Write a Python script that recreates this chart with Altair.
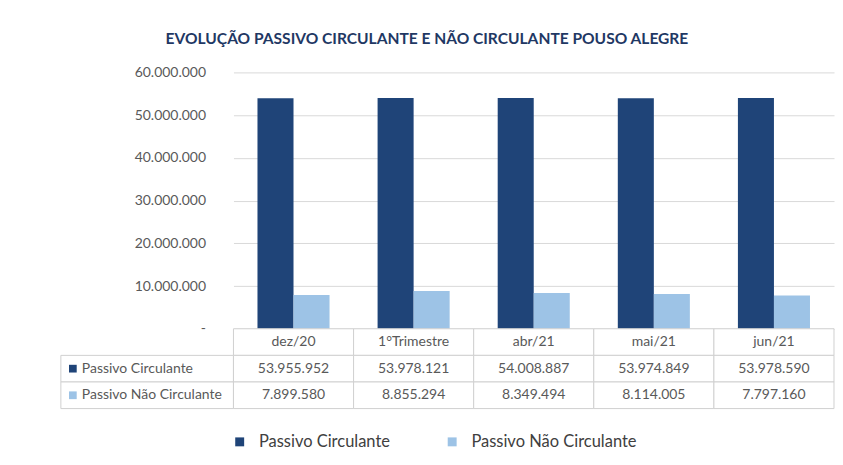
import altair as alt
import pandas as pd

categories = ["dez/20", "1°Trimestre", "abr/21", "mai/21", "jun/21"]
series = ["Passivo Circulante", "Passivo Não Circulante"]
passivo_circulante = [53955952, 53978121, 54008887, 53974849, 53978590]
passivo_nao_circulante = [7899580, 8855294, 8349494, 8114005, 7797160]
colors = ["#1F4478", "#9DC3E6"]

FONT = "Lato"
TXT = "#595959"
BORDER = "#D0D0D0"

rows = []
for i, c in enumerate(categories):
    rows.append({"cat": c, "serie": series[0], "valor": passivo_circulante[i]})
    rows.append({"cat": c, "serie": series[1], "valor": passivo_nao_circulante[i]})
df = pd.DataFrame(rows)

row_order = ["header"] + series
color_scale = alt.Scale(domain=series, range=colors)
fmt = "replace(format(datum.valor, ',d'), /,/g, '.')"

# ---- bar chart ----
bars = alt.Chart(df).mark_bar().encode(
    x=alt.X("cat:N", sort=categories, axis=None,
            scale=alt.Scale(paddingInner=0.4, paddingOuter=0.2)),
    xOffset=alt.XOffset("serie:N", sort=series),
    y=alt.Y("valor:Q", scale=alt.Scale(domain=[0, 60000000]),
            axis=alt.Axis(values=[0, 10000000, 20000000, 30000000, 40000000, 50000000, 60000000],
                          labelExpr="datum.value == 0 ? '-' : replace(format(datum.value, ',d'), /,/g, '.')",
                          title=None, domain=False, ticks=False, labelPadding=28,
                          gridColor="#D9D9D9", labelFont=FONT, labelFontSize=14,
                          labelColor=TXT)),
    color=alt.Color("serie:N", scale=color_scale, sort=series,
                    legend=alt.Legend(title=None, orient="none", direction="horizontal",
                                      legendX=171, legendY=362, symbolType="square",
                                      symbolSize=80, labelFont=FONT, labelFontSize=16.5,
                                      labelColor="#404040", columnPadding=54, labelOffset=11,
                                      labelLimit=400, symbolStrokeWidth=0)),
).properties(width=602, height=257)

spacer = alt.Chart(pd.DataFrame({"a": [0]})).mark_text(text="").encode(
    x=alt.value(0), y=alt.value(0)
).properties(width=173, height=257)

# ---- table: values ----
trows = []
for i, c in enumerate(categories):
    trows.append({"cat": c, "row": "header", "txt": c})
    trows.append({"cat": c, "row": series[0], "txt": None, "valor": passivo_circulante[i]})
    trows.append({"cat": c, "row": series[1], "txt": None, "valor": passivo_nao_circulante[i]})
tdf = pd.DataFrame(trows)

tx = alt.X("cat:N", sort=categories, axis=None, scale=alt.Scale(paddingInner=0, paddingOuter=0))
ty = alt.Y("row:N", sort=row_order, axis=None, scale=alt.Scale(domain=row_order, paddingInner=0, paddingOuter=0))

cells = alt.Chart(tdf).mark_rect(fill="white", stroke=BORDER, strokeWidth=1).encode(x=tx, y=ty)
texts = alt.Chart(tdf).transform_calculate(
    label=f"datum.row == 'header' ? datum.txt : {fmt}"
).mark_text(font=FONT, fontSize=14, color=TXT).encode(x=tx, y=ty, text="label:N")
values_tbl = alt.layer(cells, texts).properties(width=602, height=80)

# ---- table: row labels ----
ldf = pd.DataFrame({"col": ["l", "l"], "row": series, "serie": series})
lx = alt.X("col:N", axis=None, scale=alt.Scale(paddingInner=0, paddingOuter=0))
lcells = alt.Chart(ldf).mark_rect(fill="white", stroke=BORDER, strokeWidth=1).encode(x=lx, y=ty)
lsq = alt.Chart(ldf).mark_point(shape="square", filled=True, size=60, opacity=1, xOffset=12).encode(
    x=alt.X("col:N", axis=None, bandPosition=0, scale=alt.Scale(paddingInner=0, paddingOuter=0)),
    y=ty,
    color=alt.Color("serie:N", scale=color_scale, legend=None),
)
ltxt = alt.Chart(ldf).mark_text(font=FONT, fontSize=14, color=TXT, align="left", dx=21).encode(
    x=alt.X("col:N", axis=None, bandPosition=0, scale=alt.Scale(paddingInner=0, paddingOuter=0)),
    y=ty, text="row:N",
)
labels_tbl = alt.layer(lcells, lsq, ltxt).properties(width=173, height=80)

chart = alt.concat(spacer, bars, labels_tbl, values_tbl, columns=2, spacing=0, bounds="flush").properties(
    title=alt.Title("EVOLUÇÃO PASSIVO CIRCULANTE E NÃO CIRCULANTE POUSO ALEGRE",
                    font=FONT, fontSize=15.6, fontWeight="bold", color="#1F3864",
                    anchor="start", frame="group", dx=105, offset=18),
    padding={"left": 52, "top": 23, "right": 0, "bottom": 0},
).configure_view(stroke=None).configure_concat(spacing=0)

chart.save("out.html", embed_options={"renderer": "svg", "actions": False})
